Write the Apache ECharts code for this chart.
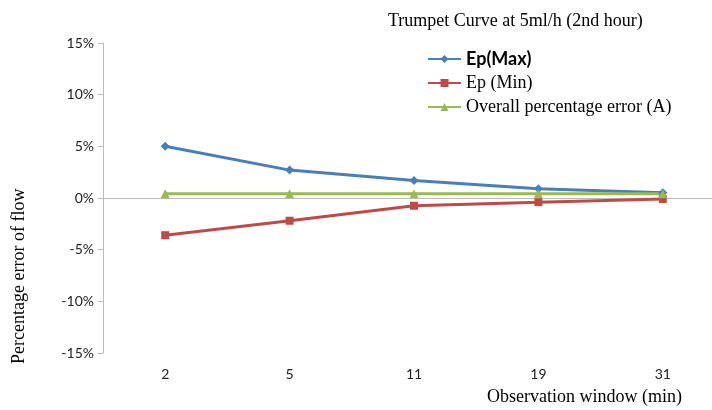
<!DOCTYPE html>
<html>
<head>
<meta charset="utf-8">
<script src="https://cdn.jsdelivr.net/npm/echarts@6/dist/echarts.min.js"></script>
<style>
  html, body { margin: 0; padding: 0; background: #fff; overflow: hidden; }
  /* the plot runs a little past the right edge in the original, so the box is wider than the window */
  #main { width: 725px; height: 410px; }
</style>
</head>
<body>
<div id="main"></div>
<script>
// observation windows (min)
var windows = ['2', '5', '11', '19', '31'];
// percentage values
var epMax = [5.0, 2.7, 1.7, 0.9, 0.5];
var epMin = [-3.6, -2.2, -0.75, -0.4, -0.1];
var overall = [0.4, 0.4, 0.4, 0.4, 0.4];

var serif = '"Liberation Serif", "DejaVu Serif", serif';
var sans = 'Lato, "Open Sans", sans-serif';

var myChart = echarts.init(document.getElementById('main'));

myChart.setOption({
    animation: false,
    title: {
        text: 'Trumpet Curve at 5ml/h (2nd hour)',
        left: 383,
        top: 7,
        textStyle: { fontFamily: serif, fontSize: 18, fontWeight: 'normal', color: '#000' }
    },
    legend: {
        orient: 'vertical',
        left: 422,
        top: 45,
        itemGap: 6,
        itemWidth: 33,
        itemHeight: 10,
        data: [
            { name: 'Ep(Max)', textStyle: { fontFamily: sans, fontWeight: 'bold', fontSize: 18, color: '#000' } },
            { name: 'Ep (Min)', textStyle: { fontFamily: serif, fontSize: 18, color: '#000' } },
            { name: 'Overall percentage error (A)', textStyle: { fontFamily: serif, fontSize: 18, color: '#000' } }
        ]
    },
    grid: { left: 103, top: 43, right: 0, height: 310 },
    xAxis: {
        type: 'category',
        data: windows,
        boundaryGap: true,
        axisLine: { lineStyle: { color: '#bcbcbc', width: 1 } },
        axisTick: { length: 5, lineStyle: { color: '#bcbcbc' } },
        axisLabel: { margin: 14, fontFamily: sans, fontSize: 14, color: '#222' }
    },
    yAxis: {
        type: 'value',
        min: -15,
        max: 15,
        interval: 5,
        axisLine: { show: true, lineStyle: { color: '#bcbcbc', width: 1 } },
        axisTick: { show: true, inside: false, length: 5, lineStyle: { color: '#bcbcbc' } },
        splitLine: { show: false },
        axisLabel: {
            margin: 9,
            fontFamily: sans,
            fontSize: 14,
            color: '#222',
            formatter: function (v) { return v + '%'; }
        }
    },
    graphic: [
        {
            type: 'text',
            x: 10,
            y: 364,
            rotation: Math.PI / 2,
            style: {
                text: 'Percentage error of flow',
                font: '18px ' + serif,
                fill: '#000'
            }
        },
        {
            type: 'text',
            x: 487,
            y: 388,
            style: {
                text: 'Observation window (min)',
                font: '18px ' + serif,
                fill: '#000'
            }
        }
    ],
    series: [
        {
            name: 'Ep(Max)',
            type: 'line',
            data: epMax,
            symbol: 'diamond',
            symbolSize: 9,
            lineStyle: { width: 3, color: '#4a7ebb' },
            itemStyle: { color: '#4a7ebb' }
        },
        {
            name: 'Ep (Min)',
            type: 'line',
            data: epMin,
            symbol: 'rect',
            symbolSize: 8,
            lineStyle: { width: 3, color: '#be4b48' },
            itemStyle: { color: '#be4b48' }
        },
        {
            name: 'Overall percentage error (A)',
            type: 'line',
            data: overall,
            symbol: 'triangle',
            symbolSize: 9,
            lineStyle: { width: 3, color: '#98b954' },
            itemStyle: { color: '#98b954' }
        }
    ]
});
</script>
</body>
</html>
